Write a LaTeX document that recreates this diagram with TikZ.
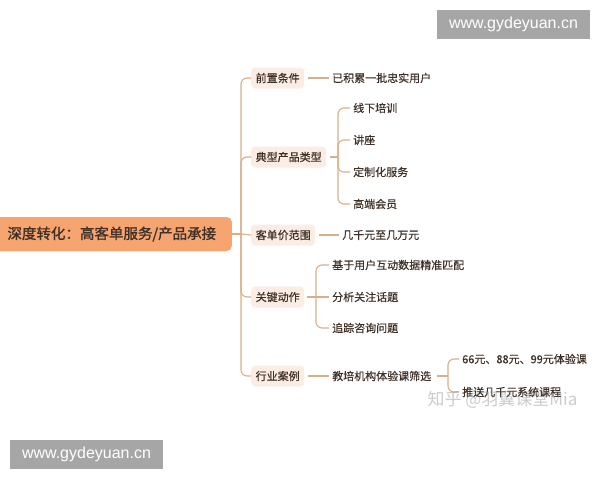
\documentclass[tikz,border=0pt]{standalone}
\usepackage{fontspec}
\setmainfont{Noto Sans CJK SC}[FakeBold=0.5]
\newfontfamily\rootfont{Noto Sans CJK SC}[FakeBold=1.4]
\newfontfamily\wmfont{Liberation Sans}
\newfontfamily\zhfont{Noto Sans CJK SC}
\usetikzlibrary{positioning}
\definecolor{linec}{HTML}{D9AE88}
\definecolor{rootc}{HTML}{F6A470}
\definecolor{lvlc}{HTML}{FBEDE3}
\definecolor{txtc}{HTML}{3F3128}
\definecolor{wmgray}{HTML}{A6A6A6}
\begin{document}
\begin{tikzpicture}[x=1pt,y=-1pt,
  rootbox/.style={fill=rootc,rounded corners=5pt,inner xsep=12pt,minimum width=240pt,minimum height=34pt,text=txtc,font=\rootfont\fontsize{14.5}{16}\selectfont,anchor=east},
  lvlbox/.style={fill=lvlc,rounded corners=4pt,inner xsep=4.5pt,minimum height=21pt,text=txtc,font=\fontsize{11}{12}\selectfont,anchor=west},
  leaf/.style={inner xsep=3pt,inner ysep=2pt,text=txtc,font=\fontsize{11}{12}\selectfont,anchor=west},
  conn/.style={draw=linec,line width=1.1pt,rounded corners=6pt},
  wmbox/.style={fill=wmgray,text=white,font=\wmfont\fontsize{16}{18}\selectfont,minimum height=29pt,minimum width=153pt,inner xsep=4pt}]
\useasboundingbox (0,0) rectangle (600,480);
\fill[white] (0,0) rectangle (600,480);

% root
\node[rootbox] (root) at (232,234) {深度转化：高客单服务/产品承接};
\coordinate (j) at (241,234);

% level 1
\node[lvlbox] (a) at (251,78) {前置条件};
\node[lvlbox] (b) at (251,157) {典型产品类型};
\node[lvlbox] (c) at (251,235) {客单价范围};
\node[lvlbox] (d) at (251,297) {关键动作};
\node[lvlbox] (e) at (251,376) {行业案例};

% leaves
\node[leaf] (a1) at (329,78) {已积累一批忠实用户};
\node[leaf] (b1) at (350,108) {线下培训};
\node[leaf] (b2) at (350,140) {讲座};
\node[leaf] (b3) at (350,172) {定制化服务};
\node[leaf] (b4) at (350,204) {高端会员};
\node[leaf] (c1) at (339,235) {几千元至几万元};
\node[leaf] (d1) at (329,265) {基于用户互动数据精准匹配};
\node[leaf] (d2) at (329,297) {分析关注话题};
\node[leaf] (d3) at (329,328) {追踪咨询问题};
\node[leaf] (e1) at (329,376) {教培机构体验课筛选};
\node[leaf] (e11) at (459,359) {66元、88元、99元体验课};
\node[leaf] (e12) at (459,392) {推送几千元系统课程};

\coordinate (jb) at (338,157);
\coordinate (jd) at (316,297);
\coordinate (je) at (448,376);

% connectors
\draw[conn] (root.east) -- (j);
\draw[conn] (j) |- (a.west);
\draw[conn] (j) |- (b.west);
\draw[conn] (j) -- (c.west);
\draw[conn] (j) |- (d.west);
\draw[conn] (j) |- (e.west);

\draw[conn,shorten <=4pt] (a.east) -- (a1.west);
\draw[conn,shorten <=4pt] (c.east) -- (c1.west);
\draw[conn,shorten <=4pt] (e.east) -- (e1.west);

\draw[conn,shorten <=4pt] (b.east) -- (jb);
\draw[conn] (jb) |- (b1.west);
\draw[conn] (jb) |- (b2.west);
\draw[conn] (jb) |- (b3.west);
\draw[conn] (jb) |- (b4.west);

\draw[conn,shorten <=3pt] (d.east) -- (jd);
\draw[conn] (jd) |- (d1.west);
\draw[conn] (jd) -- (d2.west);
\draw[conn] (jd) |- (d3.west);

\draw[conn,shorten <=3pt] (e1.east) -- (je);
\draw[conn] (je) |- (e11.west);
\draw[conn] (je) |- (e12.west);

% watermarks
\node[wmbox] (w1) at (513.5,24.5) {www.gydeyuan.cn};
\node[wmbox] (w2) at (86.5,454.5) {www.gydeyuan.cn};
\node[text=gray,opacity=0.4,font=\zhfont\fontsize{17}{19}\selectfont,anchor=west] (zh) at (424,400) {知乎 @羽翼课堂Mia};
\end{tikzpicture}
\end{document}
